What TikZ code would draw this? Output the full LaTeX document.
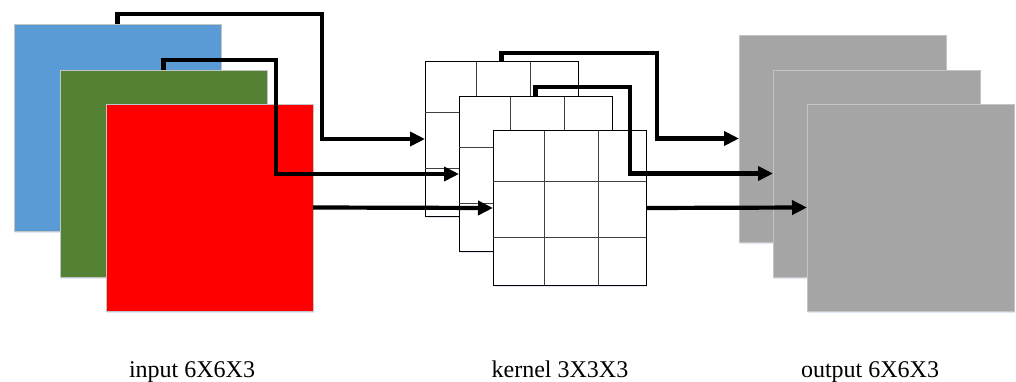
\documentclass[tikz,border=0pt]{standalone}
\usepackage{fontspec}
\setmainfont{Liberation Serif}
\usetikzlibrary{arrows.meta,calc,shadows}
\definecolor{inblue}{HTML}{5B9BD5}
\definecolor{ingreen}{HTML}{548235}
\definecolor{inred}{HTML}{FF0000}
\definecolor{outgray}{HTML}{A5A5A5}
\definecolor{edgegray}{HTML}{C4C4C4}
\definecolor{shadowc}{HTML}{DCE6F2}
\newcommand\kgrid[1]{%
  \draw[gridl] ($(#1.north west)!0.333!(#1.north east)$) -- ($(#1.south west)!0.333!(#1.south east)$);
  \draw[gridl] ($(#1.north west)!0.686!(#1.north east)$) -- ($(#1.south west)!0.686!(#1.south east)$);
  \draw[gridl] ($(#1.north west)!0.325!(#1.south west)$) -- ($(#1.north east)!0.325!(#1.south east)$);
  \draw[gridl] ($(#1.north west)!0.688!(#1.south west)$) -- ($(#1.north east)!0.688!(#1.south east)$);
}
\begin{document}
\begin{tikzpicture}[x=1pt,y=-1pt,
  sq/.style={draw=edgegray, line width=0.8pt, minimum width=207pt, minimum height=207pt,
    inner sep=0pt, outer sep=0pt, anchor=north west,
    drop shadow={shadow xshift=1pt, shadow yshift=-2pt, fill=shadowc, opacity=0.9}},
  kern/.style={draw=black, fill=white, line width=1pt, minimum width=153pt, minimum height=154pt,
    inner sep=0pt, outer sep=0pt, anchor=north west,
    drop shadow={shadow xshift=1pt, shadow yshift=-2pt, fill=shadowc, opacity=0.9}},
  gridl/.style={draw=black!75, line width=0.9pt},
  conn/.style={line width=4.2pt, draw=black, -{Triangle[length=15pt,width=14pt]}},
  lbl/.style={anchor=base, inner sep=0pt, font=\fontsize{24}{28}\selectfont}]
\useasboundingbox (0,0) rectangle (1016,382);
% input
\node[sq, fill=inblue] (blue) at (14,24) {};
\node[sq, fill=ingreen] (green) at (60,70) {};
\node[sq, fill=inred] (red) at (106,104) {};
% kernels
\node[kern] (K1) at (425,62) {};
\kgrid{K1}
\node[kern] (K2) at (459,97) {};
\kgrid{K2}
\node[kern] (K3) at (493,131) {};
\kgrid{K3}
% output
\node[sq, fill=outgray] (O1) at (739,35) {};
\node[sq, fill=outgray] (O2) at (773,70) {};
\node[sq, fill=outgray] (O3) at (807,104) {};
% bend columns
\coordinate (c1) at (322,0);
\coordinate (c2) at (276,0);
\coordinate (c3) at (657,0);
\coordinate (c4) at (630,0);
% connectors
\draw[conn] (blue.north) -- ++(0,-10) -| (c1 |- K1.west) -- (K1.west);
\draw[conn] (green.north) -- ++(0,-10) -| (c2 |- K2.west) -- (K2.west);
\draw[conn] (red.east) -- (K3.west);
\draw[conn] (K1.north) -- ++(0,-9) -| (c3 |- O1.west) -- (O1.west);
\draw[conn] (K2.north) -- ++(0,-10) -| (c4 |- O2.west) -- (O2.west);
\draw[conn] (K3.east) -- (O3.west);
% labels
\node[lbl] (lin) at (192,377) {input 6X6X3};
\node[lbl] (lk) at (560,377) {kernel 3X3X3};
\node[lbl] (lout) at (870,377) {output 6X6X3};
\end{tikzpicture}
\end{document}
